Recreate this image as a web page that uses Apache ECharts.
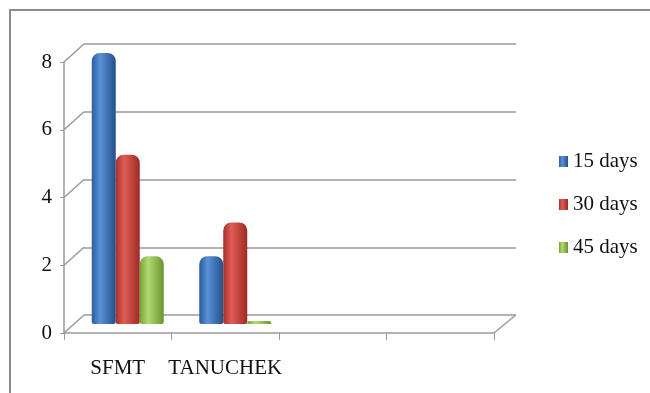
<!DOCTYPE html>
<html>
<head>
<meta charset="utf-8">
<title>bar chart</title>
<script src="https://cdn.jsdelivr.net/npm/echarts@6/dist/echarts.min.js"></script>
<style>
    html, body { margin: 0; padding: 0; background: #fff; }
    #frame {
        position: absolute; left: 9px; top: 9px; width: 700px; height: 420px;
        border-left: 2px solid #8c8c8c; border-top: 2px solid #8c8c8c;
    }
    #main { position: absolute; left: 0; top: 0; width: 650px; height: 393px; }
</style>
</head>
<body>
<div id="frame"></div>
<div id="main"></div>
<script>
    // data
    var categories = ['SFMT', 'TANUCHEK', '', ''];
    var seriesNames = ['15 days', '30 days', '45 days'];
    var days15 = [8, 2, null, null];
    var days30 = [5, 3, null, null];
    var days45 = [2, 0, null, null];
    var yTicks = [0, 2, 4, 6, 8];

    // cylinder-ish shading, left edge / highlight / right edge
    function shade(a, b, c) {
        return new echarts.graphic.LinearGradient(0, 0, 1, 0, [
            { offset: 0, color: a },
            { offset: 0.35, color: b },
            { offset: 1, color: c }
        ]);
    }
    var blue = shade('#2c5c9c', '#5a92d6', '#23508c');
    var red = shade('#a82f2a', '#e05d56', '#9c2a25');
    var green = shade('#76a236', '#b2da72', '#6a9430');

    var font = 'Liberation Serif';
    var ink = '#111';
    var gray = '#9a9a9a';
    var yMax = yTicks[yTicks.length - 1];

    var chartDom = document.getElementById('main');
    var myChart = echarts.init(chartDom);

    var option = {
        animation: false,
        grid: [
            { left: 84, right: 134, top: 44, bottom: 78 },   // back wall
            { left: 74, right: 146, top: 53, bottom: 69 },   // bars
            { left: 64, right: 156, top: 62, bottom: 60 }    // front axes
        ],
        legend: {
            orient: 'vertical',
            left: 554,
            top: 146,
            itemWidth: 9,
            itemHeight: 11,
            itemGap: 22,
            icon: 'rect',
            data: seriesNames,
            textStyle: { fontFamily: font, fontSize: 21, color: ink }
        },
        xAxis: [
            { gridIndex: 0, type: 'category', data: categories, show: false },
            { gridIndex: 1, type: 'category', data: categories, show: false },
            {
                gridIndex: 2, type: 'category', data: categories,
                axisLine: { lineStyle: { color: gray, width: 1.5 } },
                axisTick: { show: true, interval: 0, length: 7, lineStyle: { color: gray } },
                axisLabel: { interval: 0, margin: 25, fontFamily: font, fontSize: 21, color: ink }
            }
        ],
        yAxis: [
            {
                gridIndex: 0, type: 'value', min: 0, max: yMax, interval: 2,
                axisLine: { show: false }, axisTick: { show: false }, axisLabel: { show: false },
                splitLine: { lineStyle: { color: gray, width: 1.5 } }
            },
            { gridIndex: 1, type: 'value', min: 0, max: yMax, interval: 2, show: false, splitLine: { show: false } },
            {
                gridIndex: 2, type: 'value', min: 0, max: yMax, interval: 2,
                axisLine: { show: true, lineStyle: { color: gray, width: 1.5 } },
                axisTick: { show: true, length: 4, lineStyle: { color: gray } },
                axisLabel: { margin: 12, fontFamily: font, fontSize: 21, color: ink },
                splitLine: { show: false }
            }
        ],
        series: [
            {
                name: seriesNames[0], type: 'bar', xAxisIndex: 1, yAxisIndex: 1,
                data: days15, barWidth: 24, barGap: '0%',
                itemStyle: { color: blue, borderRadius: [8, 8, 2, 2] }
            },
            {
                name: seriesNames[1], type: 'bar', xAxisIndex: 1, yAxisIndex: 1,
                data: days30, barWidth: 24, barGap: '0%',
                itemStyle: { color: red, borderRadius: [8, 8, 2, 2] }
            },
            {
                name: seriesNames[2], type: 'bar', xAxisIndex: 1, yAxisIndex: 1,
                data: days45, barWidth: 24, barGap: '0%', barMinHeight: 3,
                itemStyle: { color: green, borderRadius: [8, 8, 2, 2] }
            }
        ]
    };
    myChart.setOption(option);

    // 3D connectors between the front axis and the back wall
    var lines = [];
    var edge = { stroke: gray, lineWidth: 1.5 };
    yTicks.forEach(function (v) {
        var yf = myChart.convertToPixel({ yAxisIndex: 2 }, v);
        var yb = myChart.convertToPixel({ yAxisIndex: 0 }, v);
        lines.push({ type: 'line', shape: { x1: 64, y1: yf, x2: 84, y2: yb }, style: edge, silent: true });
    });
    var half = 430 / categories.length / 2;
    var xf = myChart.convertToPixel({ xAxisIndex: 2 }, categories.length - 1) + half;
    var xb = myChart.convertToPixel({ xAxisIndex: 0 }, categories.length - 1) + half;
    lines.push({
        type: 'line',
        shape: {
            x1: xf, y1: myChart.convertToPixel({ yAxisIndex: 2 }, 0),
            x2: xb, y2: myChart.convertToPixel({ yAxisIndex: 0 }, 0)
        },
        style: edge, silent: true
    });
    myChart.setOption({ graphic: lines });
</script>
</body>
</html>
